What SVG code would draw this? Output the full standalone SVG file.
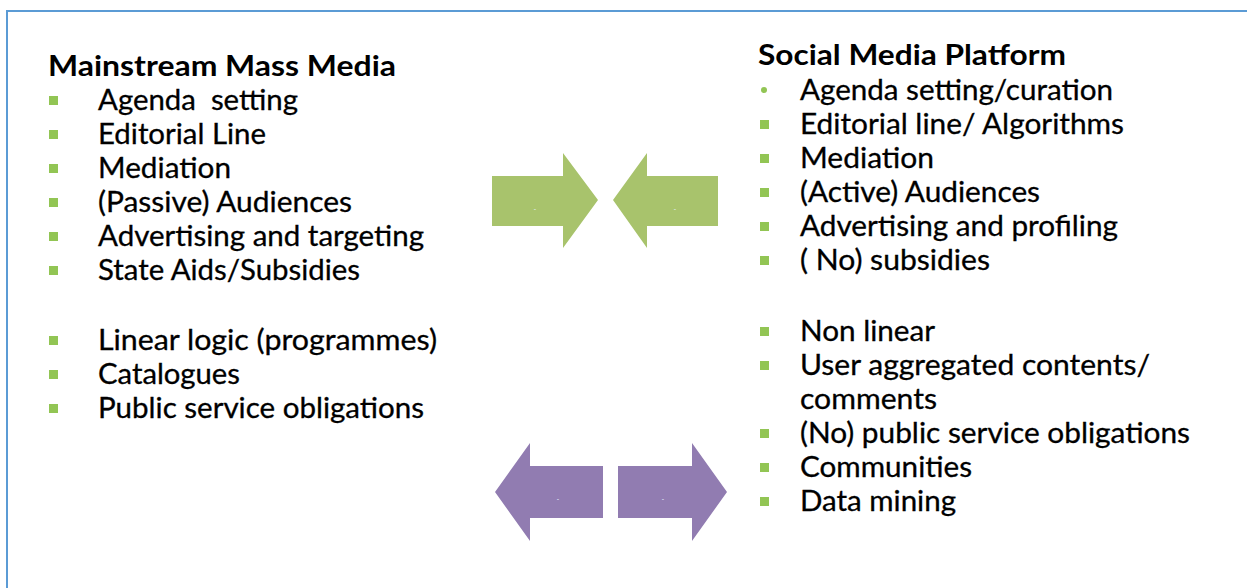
<svg xmlns="http://www.w3.org/2000/svg" width="1247" height="588" viewBox="0 0 1247 588">
  <style>
    .title { font-family: Lato, "Open Sans", "Liberation Sans", sans-serif; font-weight: 700; font-size: 28px; fill: #000; }
    .item { font-family: Lato, "Open Sans", "Liberation Sans", sans-serif; font-weight: 400; font-size: 28px; fill: #000; stroke: #000; stroke-width: 0.3; }
    .bullet { fill: #92c554; }
    .green { fill: #a8c36c; }
    .purple { fill: #917cb1; }
    .mark { font-family: "Liberation Sans", sans-serif; font-size: 7px; fill: #e8f0ff; text-anchor: middle; }
  </style>

  <rect width="1247" height="588" fill="#ffffff"/>
  <!-- outer frame, running off the right and bottom edges -->
  <rect x="7" y="11" width="1270" height="620" fill="none" stroke="#5b9bd5" stroke-width="2"/>

  <!-- left column: mainstream media -->
  <g id="mainstream">
    <text class="title" x="48" y="76" textLength="348" lengthAdjust="spacingAndGlyphs">Mainstream Mass Media</text>
    <rect class="bullet" x="49" y="96" width="9" height="9"/>
    <text class="item" x="98" y="110" textLength="200" lengthAdjust="spacingAndGlyphs" xml:space="preserve">Agenda  setting</text>
    <rect class="bullet" x="49" y="130" width="9" height="9"/>
    <text class="item" x="98" y="144" textLength="168" lengthAdjust="spacingAndGlyphs">Editorial Line</text>
    <rect class="bullet" x="49" y="164" width="9" height="9"/>
    <text class="item" x="98" y="178" textLength="133" lengthAdjust="spacingAndGlyphs">Mediation</text>
    <rect class="bullet" x="49" y="198" width="9" height="9"/>
    <text class="item" x="98" y="212" textLength="254" lengthAdjust="spacingAndGlyphs">(Passive) Audiences</text>
    <rect class="bullet" x="49" y="232" width="9" height="9"/>
    <text class="item" x="98" y="246" textLength="326" lengthAdjust="spacingAndGlyphs">Advertising and targeting</text>
    <rect class="bullet" x="49" y="266" width="9" height="9"/>
    <text class="item" x="98" y="280" textLength="262" lengthAdjust="spacingAndGlyphs">State Aids/Subsidies</text>
    <rect class="bullet" x="49" y="336" width="9" height="9"/>
    <text class="item" x="98" y="350" textLength="339" lengthAdjust="spacingAndGlyphs">Linear logic (programmes)</text>
    <rect class="bullet" x="49" y="370" width="9" height="9"/>
    <text class="item" x="98" y="384" textLength="142" lengthAdjust="spacingAndGlyphs">Catalogues</text>
    <rect class="bullet" x="49" y="404" width="9" height="9"/>
    <text class="item" x="98" y="418" textLength="326" lengthAdjust="spacingAndGlyphs">Public service obligations</text>
  </g>

  <!-- right column: social media -->
  <g id="social">
    <text class="title" x="758" y="65" textLength="308" lengthAdjust="spacingAndGlyphs">Social Media Platform</text>
    <circle class="bullet" cx="764" cy="90" r="3"/>
    <text class="item" x="800" y="100" textLength="313" lengthAdjust="spacingAndGlyphs">Agenda setting/curation</text>
    <rect class="bullet" x="760" y="120" width="9" height="9"/>
    <text class="item" x="800" y="134" textLength="324" lengthAdjust="spacingAndGlyphs">Editorial line/ Algorithms</text>
    <rect class="bullet" x="760" y="154" width="9" height="9"/>
    <text class="item" x="800" y="168" textLength="134" lengthAdjust="spacingAndGlyphs">Mediation</text>
    <rect class="bullet" x="760" y="188" width="9" height="9"/>
    <text class="item" x="800" y="202" textLength="240" lengthAdjust="spacingAndGlyphs">(Active) Audiences</text>
    <rect class="bullet" x="760" y="222" width="9" height="9"/>
    <text class="item" x="800" y="236" textLength="318" lengthAdjust="spacingAndGlyphs">Advertising and profiling</text>
    <rect class="bullet" x="760" y="256" width="9" height="9"/>
    <text class="item" x="800" y="270" textLength="190" lengthAdjust="spacingAndGlyphs">( No) subsidies</text>
    <rect class="bullet" x="760" y="327" width="9" height="9"/>
    <text class="item" x="800" y="341" textLength="135" lengthAdjust="spacingAndGlyphs">Non linear</text>
    <rect class="bullet" x="760" y="361" width="9" height="9"/>
    <text class="item" x="800" y="375" textLength="350" lengthAdjust="spacingAndGlyphs">User aggregated contents/</text>
    <text class="item" x="800" y="409" textLength="137" lengthAdjust="spacingAndGlyphs">comments</text>
    <rect class="bullet" x="760" y="429" width="9" height="9"/>
    <text class="item" x="800" y="443" textLength="390" lengthAdjust="spacingAndGlyphs">(No) public service obligations</text>
    <rect class="bullet" x="760" y="463" width="9" height="9"/>
    <text class="item" x="800" y="477" textLength="172" lengthAdjust="spacingAndGlyphs">Communities</text>
    <rect class="bullet" x="760" y="497" width="9" height="9"/>
    <text class="item" x="800" y="511" textLength="156" lengthAdjust="spacingAndGlyphs">Data mining</text>
  </g>

  <!-- block arrows between the columns -->
  <g id="connectors">
    <g id="arrow-converge-right">
      <polygon class="green" points="492,176 563,176 563,153 598,200 563,248 563,226 492,226"/>
      <text class="mark" x="535" y="211">-</text>
    </g>
    <g id="arrow-converge-left">
      <polygon class="green" points="718,176 647,176 647,153 613,200 647,248 647,226 718,226"/>
      <text class="mark" x="675" y="211">-</text>
    </g>
    <g id="arrow-diverge-left">
      <polygon class="purple" points="603,466 530,466 530,443 495,492 530,541 530,518 603,518"/>
      <text class="mark" x="558" y="501">-</text>
    </g>
    <g id="arrow-diverge-right">
      <polygon class="purple" points="618,466 692,466 692,443 727,492 692,541 692,518 618,518"/>
      <text class="mark" x="663" y="501">-</text>
    </g>
  </g>
</svg>
